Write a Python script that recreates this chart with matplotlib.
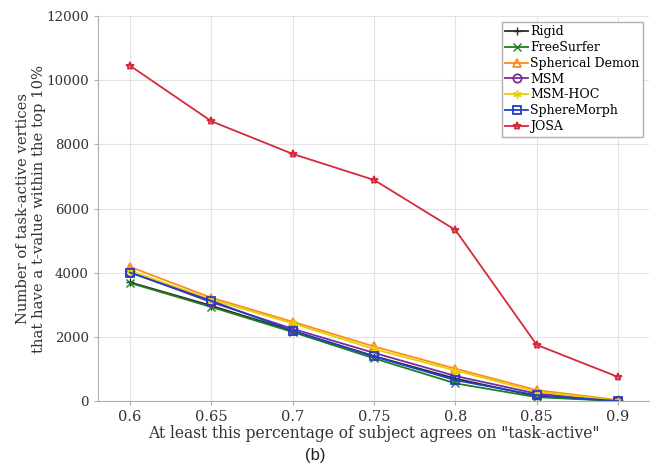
import matplotlib
matplotlib.use("Agg")
import matplotlib.pyplot as plt

x = [0.6, 0.65, 0.7, 0.75, 0.8, 0.85, 0.9]
rigid = [3700, 2970, 2180, 1400, 700, 150, 0]
freesurfer = [3680, 2930, 2150, 1330, 550, 120, 0]
spherical_demon = [4180, 3220, 2470, 1700, 1010, 340, 30]
msm = [4020, 3080, 2250, 1500, 780, 230, 5]
msm_hoc = [4060, 3160, 2420, 1620, 950, 290, 10]
spheremorph = [4000, 3120, 2190, 1390, 650, 180, 0]
josa = [10450, 8720, 7700, 6890, 5330, 1750, 750]

series = [
    ("Rigid", rigid, "#2b2b2b", "+", "full"),
    ("FreeSurfer", freesurfer, "#1e7d1e", "x", "full"),
    ("Spherical Demon", spherical_demon, "#ff8c1a", "^", "none"),
    ("MSM", msm, "#7a2c9e", "o", "none"),
    ("MSM-HOC", msm_hoc, "#e6d000", (6, 2, 0), "full"),
    ("SphereMorph", spheremorph, "#1f3fc4", "s", "none"),
    ("JOSA", josa, "#d42a3a", "*", "none"),
]

plt.rcParams['font.family'] = 'serif'
plt.rcParams['font.serif'] = ['DejaVu Serif', 'Liberation Serif']

fig = plt.figure(figsize=(6.6, 4.72), dpi=100)
ax = fig.add_axes([0.1485, 0.1504, 0.8348, 0.8157])

for name, vals, c, m, fill in series:
    kw = dict(color=c, marker=m, markersize=6, linewidth=1.3, label=name)
    if fill == "none":
        kw["markerfacecolor"] = "none"
        kw["markeredgewidth"] = 1.3
    ax.plot(x, vals, **kw)

ax.set_xlim(0.5803, 0.919)
ax.set_ylim(0, 12000)
ax.set_xticks(x)
ax.set_xticklabels(["0.6", "0.65", "0.7", "0.75", "0.8", "0.85", "0.9"])
ax.set_yticks(range(0, 12001, 2000))
ax.grid(True, color="#e3e3e3", linewidth=0.8)
ax.set_axisbelow(True)
ax.spines["right"].set_visible(False)
ax.spines["top"].set_visible(False)
for s in ("left", "bottom"):
    ax.spines[s].set_color("#b0b0b0")
ax.tick_params(axis="y", colors="#b0b0b0", labelcolor="#333333", labelsize=9.6, length=3, direction="out")
ax.tick_params(axis="x", colors="#b0b0b0", labelcolor="#333333", labelsize=10.5, length=3, direction="out")

ax.set_xlabel('At least this percentage of subject agrees on "task-active"', fontsize=11.2, color="#333333", labelpad=0.5)
ax.set_ylabel("Number of task-active vertices\nthat have a t-value within the top 10%", fontsize=10.6, color="#333333")
ax.yaxis.set_label_coords(-0.094, 0.5)

leg = ax.legend(loc="upper right", fontsize=9, handlelength=1.85, handletextpad=0.15,
                borderpad=0.3, labelspacing=0.22, fancybox=False, framealpha=1,
                edgecolor="#b0b0b0", borderaxespad=0.45)
leg.get_frame().set_linewidth(1.0)

fig.text(0.477, 0.036, "(b)", fontsize=12, family="Liberation Sans", ha="center", va="center", color="#222222")

fig.savefig("out.png", dpi=100)
